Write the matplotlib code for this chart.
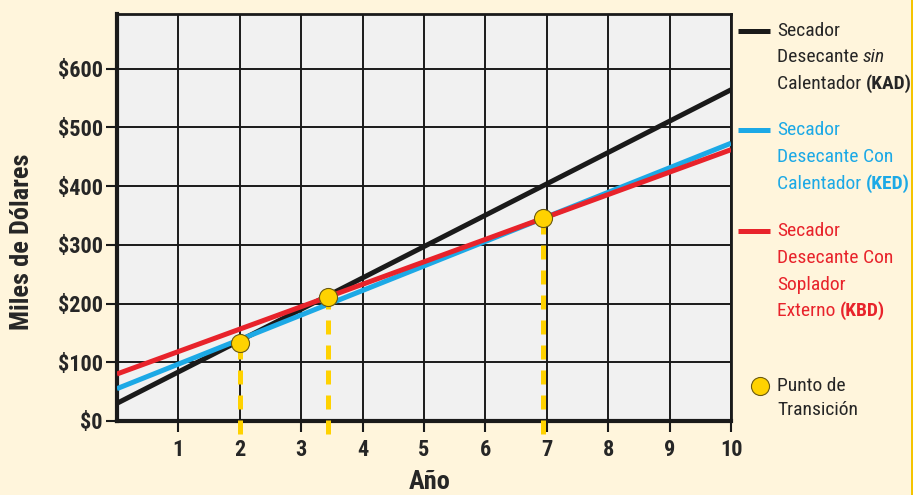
import matplotlib
matplotlib.use("Agg")
import matplotlib.pyplot as plt
from matplotlib.patches import Rectangle

plt.rcParams['font.family'] = ['Roboto Condensed', 'DejaVu Sans']

# data
years = [0, 10]
kad = [30, 564]   # Secador Desecante sin Calentador
ked = [55, 473]   # Secador Desecante Con Calentador
kbd = [80, 462]   # Secador Desecante Con Soplador Externo
trans_x = [2.0, 3.44, 6.94]
trans_y = [133, 211, 346]
x_ticks = [1, 2, 3, 4, 5, 6, 7, 8, 9, 10]
y_ticks = [0, 100, 200, 300, 400, 500, 600]
y_labels = ["$0", "$100", "$200", "$300", "$400", "$500", "$600"]

BG = "#FFF5DC"
BLACK = "#1a1a1a"
TXT = "#262626"
BLUE = "#1CA9E6"
RED = "#E8232B"
YELLOW = "#FFD200"

fig = plt.figure(figsize=(9.13, 4.95), dpi=100, facecolor=BG)
ax = fig.add_axes([0.128, 0.1495, 0.6727, 0.8222])
ax.set_facecolor("#F1F1F1")
ax.set_xlim(0, 10)
ax.set_ylim(0, 693)

ax.set_xticks(x_ticks)
ax.set_yticks(y_ticks)
ax.set_yticklabels(y_labels)
ax.tick_params(axis='both', length=8, width=1.5, color=BLACK, labelsize=16, pad=2)
ax.tick_params(axis='x', pad=5)
for lbl in ax.get_xticklabels() + ax.get_yticklabels():
    lbl.set_fontweight('bold')
    lbl.set_color(TXT)
ax.grid(True, color=BLACK, linewidth=1.4)
ax.set_axisbelow(True)
for side in ['left', 'bottom']:
    ax.spines[side].set_linewidth(3)
for side in ['top', 'right']:
    ax.spines[side].set_linewidth(2)
for s in ax.spines.values():
    s.set_color(BLACK)

ax.plot(years, kad, color=BLACK, lw=3.6, solid_capstyle='butt', zorder=3)
ax.plot(years, ked, color=BLUE, lw=3.6, solid_capstyle='butt', zorder=4)
ax.plot(years, kbd, color=RED, lw=3.6, solid_capstyle='butt', zorder=5)

for x, y in zip(trans_x, trans_y):
    ax.plot([x, x], [-22, y], color=YELLOW, lw=3.6, dashes=(2.8, 2.2),
            clip_on=False, zorder=6)
ax.plot(trans_x, trans_y, 'o', color=YELLOW, markersize=13,
        markeredgecolor="#6b5a10", markeredgewidth=0.8, clip_on=False, zorder=7)

ax.set_xlabel("Año", fontsize=19, fontweight='bold', color=TXT)
ax.set_ylabel("Miles de Dólares", fontsize=19, fontweight='bold', color=TXT)
ax.xaxis.set_label_coords(0.51, -0.12)
ax.yaxis.set_label_coords(-0.135, 0.44)

# legend drawn by hand (figure pixel coordinates -> fractions)
W, H = 913.0, 495.0
def fx(px):
    return px / W
def fy(py):
    return 1 - py / H

FS = 14
def legend_line(py, color):
    fig.add_artist(plt.Line2D([fx(738), fx(770)], [fy(py), fy(py)], color=color,
                              lw=3.6, solid_capstyle='butt'))

def legend_text(py, parts, color):
    # parts: list of (text, style dict)
    t = fig.text(fx(777), fy(py), parts[0][0], color=color, fontsize=FS,
                 va='center', ha='left', **parts[0][1])
    prev = t
    for txt, st in parts[1:]:
        prev = ax.annotate(txt, xy=(1, 0), xycoords=prev, va='bottom', ha='left',
                           color=color, fontsize=FS, **st)
    return t

legend_line(31, BLACK)
legend_text(31, [("Secador", {})], TXT)
legend_text(57, [("Desecante ", {}), ("sin", {'style': 'italic'})], TXT)
legend_text(84, [("Calentador ", {}), ("(KAD)", {'fontweight': 'bold'})], TXT)

legend_line(130, BLUE)
legend_text(130, [("Secador", {})], BLUE)
legend_text(157, [("Desecante Con", {})], BLUE)
legend_text(184, [("Calentador ", {}), ("(KED)", {'fontweight': 'bold'})], BLUE)

legend_line(231, RED)
legend_text(231, [("Secador", {})], RED)
legend_text(258, [("Desecante Con", {})], RED)
legend_text(285, [("Soplador", {})], RED)
legend_text(311, [("Externo ", {}), ("(KBD)", {'fontweight': 'bold'})], RED)

fig.add_artist(plt.Line2D([fx(760)], [fy(386)], marker='o', color=YELLOW,
                          markersize=13, markeredgecolor="#6b5a10", markeredgewidth=0.8))
legend_text(386, [("Punto de", {})], TXT)
legend_text(410, [("Transición", {})], TXT)

# thin yellow stripe on the right edge
fig.add_artist(Rectangle((0.9975, 0), 0.0025, 1, transform=fig.transFigure,
                         color="#F5C400", lw=0))

fig.savefig("out.png", dpi=100, facecolor=BG)
